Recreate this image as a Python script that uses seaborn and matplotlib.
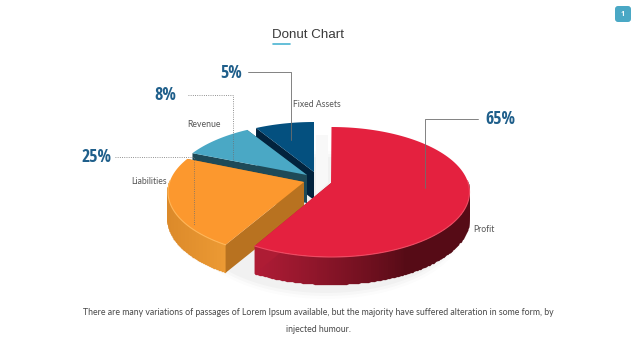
import numpy as np
import matplotlib
matplotlib.use("Agg")
import matplotlib.pyplot as plt
from matplotlib.patches import FancyBboxPatch
import seaborn as sns

categories = ["Profit", "Liabilities", "Revenue", "Fixed Assets"]
percent_labels = ["65%", "25%", "8%", "5%"]
# Slice sizes as drawn (share of the circle)
drawn_share = [59.4, 23.6, 8.6, 6.9]
top_hex = ["#E4213F", "#FC982E", "#4AA8C5", "#04507F"]
side_start_hex = ["#B01C36", "#DC8A2A", "#1E4A58", "#02233D"]
side_end_hex = ["#560B16", "#EC9A34", "#1E4A58", "#02233D"]
cut_hex = ["#AE1C34", "#B87220", "#1E4A58", "#02233D"]
rim_hex = ["#EE4A62", "#FFB658", "#4AA8C5", "#04507F"]

GAP = 1.8
centers = [(331.5, 192), (306, 192), (309, 188), (314, 187)]
apexes = [(331, 183), (304, 182), (307, 175), (314, 172)]
RX, RY, DEPTH = 138, 65, 28

sns.set_theme(style="white")
fig = plt.figure(figsize=(6.4, 3.6), dpi=100, facecolor="white")
ax = fig.add_axes([0, 0, 1, 1])
ax.set_xlim(0, 640)
ax.set_ylim(360, 0)
ax.axis("off")

top_pal = sns.color_palette(top_hex)
side_a = np.array(sns.color_palette(side_start_hex))
side_b = np.array(sns.color_palette(side_end_hex))
cut_pal = sns.color_palette(cut_hex)
rim_pal = sns.color_palette(rim_hex)


def arc(c, a0, a1, n=120, dy=0):
    t = np.radians(np.linspace(a0, a1, n))
    return c[0] + RX * np.sin(t), c[1] - RY * np.cos(t) + dy


# soft shadow below the body
t = np.linspace(0, 2 * np.pi, 200)
for grow, alpha in zip([9, 6, 3], [0.012, 0.018, 0.025]):
    ax.fill(326 + (RX + grow - 8) * np.sin(t), 197 + (RY + grow) * np.cos(t) + DEPTH,
            color="black", alpha=alpha, lw=0, zorder=1)
ax.fill([316, 328, 328, 316], [135, 135, 183, 194], color="#F8F8F8", lw=0, zorder=1)

# angular extents from the shares
extents = []
start = 0.0
for s in drawn_share:
    sweep = s * 3.6
    extents.append((start, start + sweep))
    start += sweep + GAP

# draw back slices first
for i in [3, 2, 1, 0]:
    c, ap = centers[i], apexes[i]
    a0, a1 = extents[i]
    z = 10 + (3 - i) * 10
    # outer wall, shaded along x
    lo, hi = max(a0, 80), min(a1, 280)
    if hi > lo:
        wx, wy = arc(c, lo, hi, 160)
        X = np.column_stack([wx, wx])
        Y = np.column_stack([wy, wy + DEPTH])
        mid = 0.5 * (wx[:-1] + wx[1:])
        f = np.clip((mid.max() - mid) / (mid.max() - mid.min()), 0, 1)
        if i == 0:
            f = np.clip((mid.min() + 150 - mid) / 150, 0, 1) ** 0.9
        col = (f[:, None] * side_a[i] + (1 - f[:, None]) * side_b[i])[:, None, :]
        ax.pcolormesh(X, Y, col, shading="flat", zorder=z, antialiased=True, edgecolors="face", linewidth=0.2)
    # cut faces
    ex, ey = arc(c, a1, a1, 1)
    sx, sy = arc(c, a0, a0, 1)
    if i > 0:
        ax.fill([ap[0], sx[0], sx[0], ap[0]], [ap[1], sy[0], sy[0] + DEPTH, ap[1] + DEPTH],
                color=cut_pal[i], lw=0, zorder=z)
    ax.fill([ap[0], ex[0], ex[0], ap[0]], [ap[1], ey[0], ey[0] + DEPTH, ap[1] + DEPTH],
            color=cut_pal[i], lw=0, zorder=z)
    # top face
    ax_, ay_ = arc(c, a0, a1)
    ax.fill(np.r_[ap[0], ax_], np.r_[ap[1], ay_], color=top_pal[i], lw=0, zorder=z + 1)
    if hi > lo and i < 2:
        rx_, ry_ = arc(c, lo, hi)
        ax.plot(rx_, ry_, color=rim_pal[i], lw=0.8, zorder=z + 2)

# leader lines
leader_x = [[478, 425, 425], [115, 194, 194], [188, 233, 233], [248, 291, 291]]
leader_y = [[119, 119, 188], [157, 157, 225], [95, 95, 160], [72, 72, 140]]
leader_style = ["-", ":", ":", "-"]
for lx, ly, ls in zip(leader_x, leader_y, leader_style):
    ax.plot(lx, ly, color="#6E6E6E", lw=0.6, ls=ls, zorder=60)

# percentage labels
pct_pos = [(500.5, 119.5), (96, 157.5), (165, 95), (231, 72.5)]
for txt, (px, py) in zip(percent_labels, pct_pos):
    ax.text(px, py, txt, ha="center", va="center", fontsize=13, fontweight="bold",
            color="#1F5F8B", family=["Open Sans Condensed", "DejaVu Sans"], zorder=70)

# category labels
cat_pos = [(473, 229), (131, 182), (187, 124.5), (293, 104.5)]
for txt, (px, py) in zip(categories, cat_pos):
    ax.text(px, py, txt, ha="left", va="center", fontsize=6.2, color="#555555",
            family="Lato", zorder=70)

# title
ax.text(308, 35, "Donut Chart", ha="center", va="center", fontsize=9.6, color="#3A3A3A",
        family="Liberation Sans")
ax.plot([273, 290], [43.5, 43.5], color="#4AB4D2", lw=1.2)

# page badge
ax.add_patch(FancyBboxPatch((617, 8), 12, 12, boxstyle="round,pad=2,rounding_size=3",
                            fc="#4AA8C5", ec="none"))
ax.text(623, 14.3, "1", ha="center", va="center", fontsize=5, fontweight="bold", color="white",
        family="Open Sans")

# footer
footer = ["There are many variations of passages of Lorem Ipsum available, but the majority have suffered alteration in some form, by",
          "injected humour."]
for txt, fy in zip(footer, [312.5, 330]):
    ax.text(318.5, fy, txt, ha="center", va="center", fontsize=6.3, color="#484848",
            family="Lato")

fig.savefig("out.png", dpi=100)
